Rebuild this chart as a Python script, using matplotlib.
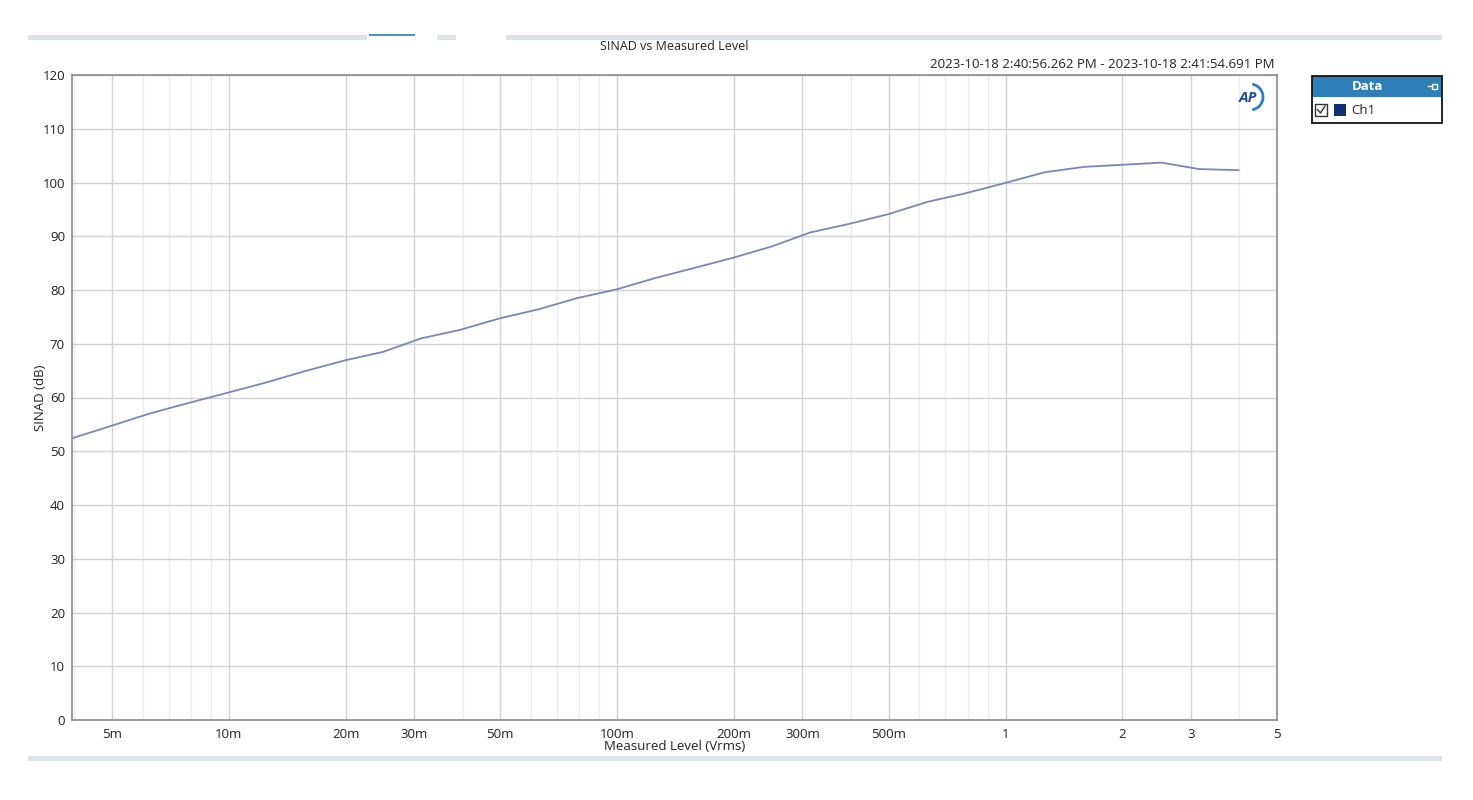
import numpy as np
import matplotlib
matplotlib.use('Agg')
import matplotlib.pyplot as plt
from matplotlib.patches import Rectangle, Arc
from matplotlib.ticker import FixedLocator, NullFormatter

plt.rcParams['font.family'] = ['Open Sans', 'DejaVu Sans']

# measured level (Vrms) and SINAD (dB)
level_vrms = [0.00395, 0.00497, 0.00625, 0.00790, 0.00995, 0.0125, 0.0157,
              0.0199, 0.0250, 0.0313, 0.0395, 0.0497, 0.0627, 0.0790,
              0.0995, 0.125, 0.158, 0.199, 0.250, 0.314, 0.396, 0.499,
              0.630, 0.790, 0.997, 1.26, 1.59, 2.00, 2.52, 3.15, 3.98]
sinad_db = [52.4, 54.7, 57.0, 59.0, 60.9, 62.8, 64.9, 66.9, 68.5, 71.0,
            72.6, 74.7, 76.4, 78.5, 80.1, 82.2, 84.1, 86.0, 88.1, 90.7,
            92.3, 94.1, 96.4, 98.0, 99.9, 101.9, 102.9, 103.3, 103.7,
            102.5, 102.3]

xtick_vals   = [0.005, 0.01, 0.02, 0.03, 0.05, 0.1, 0.2, 0.3, 0.5, 1, 2, 3, 5]
xtick_labels = ['5m', '10m', '20m', '30m', '50m', '100m', '200m', '300m',
                '500m', '1', '2', '3', '5']
minor_vals = [m * d for d in (0.001, 0.01, 0.1, 1) for m in range(2, 10)]
minor_vals = [v for v in minor_vals if 0.0039 < v < 5 and v not in xtick_vals]

W, H = 1473, 800
fig = plt.figure(figsize=(W / 100, H / 100), dpi=100)
fig.patch.set_facecolor('white')

# plot area in pixels: x 72..1277, y 75..720
ax = fig.add_axes([72 / W, (H - 720) / H, 1205 / W, 645 / H])
ax.semilogx(level_vrms, sinad_db, color='#7886bb', lw=1.3, zorder=3)
ax.set_xlim(0.00395, 5)
ax.set_ylim(0, 120)
ax.set_yticks(np.arange(0, 121, 10))
ax.xaxis.set_major_locator(FixedLocator(xtick_vals))
ax.set_xticklabels(xtick_labels)
ax.xaxis.set_minor_locator(FixedLocator(minor_vals))
ax.xaxis.set_minor_formatter(NullFormatter())
ax.tick_params(which='both', length=0, labelsize=9.5, colors='#222222', pad=6)
ax.tick_params(axis='y', pad=5)
ax.grid(True, which='major', color='#d2d2d2', lw=1.0)
ax.grid(True, which='minor', axis='x', color='#ededed', lw=1.0)
for s in ax.spines.values():
    s.set_color('#8a8a8a')
    s.set_linewidth(1.2)
ax.set_xlabel('Measured Level (Vrms)', fontsize=9.5, labelpad=-1, color='#222222')
ax.set_ylabel('SINAD (dB)', fontsize=9.5, labelpad=-3, color='#222222')

# overlay in pixel coordinates for the window furniture
ov = fig.add_axes([0, 0, 1, 1], facecolor='none')
ov.set_xlim(0, W)
ov.set_ylim(H, 0)
ov.axis('off')

ov.add_patch(Rectangle((28, 35), 1414, 5, color='#dde3e8', lw=0))
ov.add_patch(Rectangle((28, 756), 1414, 5, color='#dde3e8', lw=0))
ov.add_patch(Rectangle((367, 34), 70, 6, color='white', lw=0))
ov.add_patch(Rectangle((456, 34), 50, 6, color='white', lw=0))
ov.add_patch(Rectangle((369, 34), 46, 2, color='#4a8fd6', lw=0))

ov.text(674, 47, 'SINAD vs Measured Level', ha='center', va='center',
        fontsize=9, color='#222222')
ov.text(1275, 65, '2023-10-18 2:40:56.262 PM - 2023-10-18 2:41:54.691 PM',
        ha='right', va='center', fontsize=9.5, color='#222222')

# AP logo
ov.text(1248, 98, 'AP', ha='center', va='center', fontsize=11,
        fontweight='bold', fontstyle='italic', color='#1d4f9a')
ov.add_patch(Arc((1250, 97), 26, 26, theta1=-80, theta2=80,
                 color='#2a7fc8', lw=2.0))

# legend panel
ov.add_patch(Rectangle((1312, 76), 130, 21, facecolor='#2e7fb8', lw=0))
ov.add_patch(Rectangle((1312, 76), 130, 47, facecolor='none',
                       edgecolor='#111111', lw=1.3))
ov.text(1367, 87, 'Data', ha='center', va='center', fontsize=9.5,
        fontweight='bold', color='white')
ov.plot([1428, 1432], [86, 86], color='white', lw=1)
ov.add_patch(Rectangle((1432, 83.5), 5, 5, facecolor='none',
                       edgecolor='white', lw=1))
ov.add_patch(Rectangle((1315, 104), 12, 12, facecolor='white',
                       edgecolor='#333333', lw=1))
ov.plot([1317.5, 1320.5, 1325], [109.5, 113, 106], color='#333333', lw=1)
ov.add_patch(Rectangle((1334, 104), 12, 12, facecolor='#0f2f78', lw=0))
ov.text(1351, 110, 'Ch1', ha='left', va='center', fontsize=9.5, color='#222222')

fig.savefig('out.png', dpi=100)
